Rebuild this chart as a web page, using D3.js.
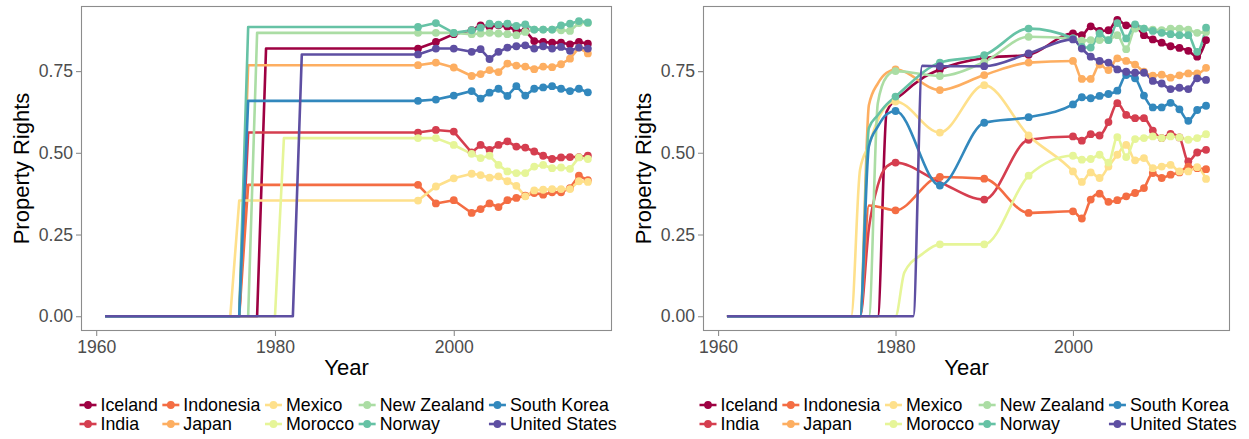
<!DOCTYPE html>
<html>
<head>
<meta charset="utf-8">
<script src="https://cdn.jsdelivr.net/npm/d3@7"></script>
<style>
  html, body { margin: 0; padding: 0; background: #fff; }
  svg { display: block; font-family: "Liberation Sans", Arial, Helvetica, sans-serif; }
</style>
</head>
<body>
<svg id="chart" width="1249" height="439"></svg>
<script>
// ---------------- DATA ----------------
const countries = ["Iceland","India","Indonesia","Japan","Mexico","Morocco","New Zealand","Norway","South Korea","United States"];
const colors = ["#9E0142","#D53E4F","#F46D43","#FDAE61","#FEE08B","#E6F598","#ABDDA4","#66C2A5","#3288BD","#5E4FA2"];
const yTicks = [0, 0.25, 0.5, 0.75];
const xTicks = [1960, 1980, 2000];

// Left panel: last zero year (step), observed years & values
const leftStepYear = [1978, 1976, 1976, 1976, 1975, 1980, 1977, 1976, 1976, 1982];
const leftYears = [1996,1998,2000,2002,2003,2004,2005,2006,2007,2008,2009,2010,2011,2012,2013,2014,2015];
const leftIceland   = [0.819,0.839,0.863,0.875,0.890,0.886,0.890,0.886,0.875,0.874,0.842,0.839,0.837,0.837,0.832,0.839,0.834];
const leftIndia     = [0.562,0.570,0.565,0.501,0.524,0.509,0.524,0.535,0.519,0.516,0.504,0.491,0.481,0.486,0.487,0.487,0.491];
const leftIndonesia = [0.402,0.345,0.355,0.316,0.328,0.345,0.334,0.355,0.362,0.369,0.377,0.372,0.379,0.379,0.392,0.430,0.416];
const leftJapan     = [0.768,0.776,0.761,0.735,0.741,0.753,0.747,0.773,0.767,0.764,0.756,0.764,0.762,0.771,0.788,0.822,0.804];
const leftMexico    = [0.354,0.397,0.422,0.436,0.432,0.424,0.428,0.413,0.399,0.367,0.385,0.387,0.389,0.389,0.389,0.413,0.411];
const leftMorocco   = [0.545,0.545,0.524,0.497,0.484,0.491,0.463,0.443,0.438,0.438,0.458,0.463,0.453,0.455,0.451,0.486,0.481];
const leftNewZealand= [0.867,0.867,0.867,0.863,0.865,0.867,0.865,0.863,0.860,0.870,0.877,0.877,0.877,0.875,0.873,0.897,0.897];
const leftNorway    = [0.885,0.897,0.867,0.875,0.883,0.895,0.892,0.895,0.888,0.893,0.877,0.877,0.877,0.890,0.895,0.903,0.899];
const leftSouthKorea= [0.659,0.663,0.675,0.689,0.666,0.684,0.696,0.674,0.704,0.675,0.696,0.700,0.704,0.696,0.689,0.696,0.685];
const leftUS        = [0.801,0.819,0.819,0.809,0.817,0.787,0.809,0.822,0.826,0.829,0.819,0.826,0.819,0.824,0.812,0.822,0.819];

// Right panel: observed years & values (null = not observed)
const rightYears = [1980,1985,1990,1995,2000,2001,2002,2003,2004,2005,2006,2007,2008,2009,2010,2011,2012,2013,2014,2015];
const rightIceland   = [null,0.755,0.790,0.800,0.865,0.860,0.887,0.873,0.875,0.907,0.890,0.887,0.860,0.847,0.837,0.826,0.821,0.812,0.794,0.845];
const rightIndia     = [0.470,null,0.357,0.540,0.550,0.537,0.557,0.553,0.594,0.652,0.616,0.606,0.606,0.568,0.545,0.558,0.547,0.474,0.501,0.509];
const rightIndonesia = [0.324,0.426,0.421,0.316,0.321,0.299,0.357,0.375,0.350,0.355,0.367,0.377,0.392,0.438,0.423,0.433,0.440,0.458,0.453,0.450];
const rightJapan     = [0.755,0.692,0.738,0.776,0.781,0.726,0.726,0.770,0.753,0.789,0.781,0.770,0.748,0.736,0.739,0.730,0.737,0.743,0.743,0.760];
const rightMexico    = [0.657,0.562,0.707,0.553,0.443,0.411,0.440,0.423,0.458,0.494,0.524,0.477,0.484,0.453,0.458,0.463,0.443,0.443,0.456,0.420];
const rightMorocco   = [null,0.220,0.220,0.430,0.491,0.479,0.481,0.494,0.470,0.548,0.487,0.542,0.545,0.550,0.545,0.550,0.547,0.540,0.545,0.557];
const rightNewZealand= [0.750,0.735,0.778,0.855,0.850,0.843,0.845,0.845,0.845,0.860,0.817,0.880,0.880,0.877,0.875,0.880,0.880,0.877,0.867,0.870];
const rightNorway    = [0.672,0.776,0.799,0.880,0.850,0.824,0.822,0.865,0.845,0.897,0.850,0.893,0.880,0.873,0.867,0.863,0.860,0.860,0.809,0.883];
const rightSouthKorea= [0.628,0.400,0.592,0.609,0.648,0.670,0.667,0.674,0.680,0.690,0.738,0.728,0.675,0.639,0.639,0.653,0.633,0.598,0.631,0.644];
const rightUS        = [null,0.765,0.765,0.804,0.847,0.819,0.794,0.781,0.776,0.755,0.748,0.745,0.745,0.720,0.712,0.695,0.699,0.695,0.728,0.723];

const knotsIceland   = [[1961,0],[1978,0],[1979,0.626],[1981,0.685],[1983,0.728]];
const knotsIndia     = [[1961,0],[1976,0],[1977,0.27],[1978,0.40],[1979,0.458],[1985,0.41]];
const knotsIndonesia = [[1961,0],[1976,0],[1977,0.339],[1978,0.335]];
const knotsJapan     = [[1961,0],[1976,0],[1977,0.646],[1978,0.712],[1979,0.745]];
const knotsMexico    = [[1961,0],[1975,0],[1976,0.448],[1977,0.524],[1978,0.60],[1979,0.645]];
const knotsMorocco   = [[1961,0],[1980,0],[1981,0.134],[1983,0.19]];
const knotsNewZealand= [[1961,0],[1977,0],[1978,0.651],[1979,0.733]];
const knotsNorway    = [[1961,0],[1976,0],[1977,0.576],[1978,0.615],[1979,0.648]];
const knotsSouthKorea= [[1961,0],[1976,0],[1977,0.52],[1978,0.58],[1979,0.618]];
const knotsUS        = [[1961,0],[1982,0],[1983,0.766]];

const leftValues  = [leftIceland,leftIndia,leftIndonesia,leftJapan,leftMexico,leftMorocco,leftNewZealand,leftNorway,leftSouthKorea,leftUS];
const rightValues = [rightIceland,rightIndia,rightIndonesia,rightJapan,rightMexico,rightMorocco,rightNewZealand,rightNorway,rightSouthKorea,rightUS];
const rightKnots  = [knotsIceland,knotsIndia,knotsIndonesia,knotsJapan,knotsMexico,knotsMorocco,knotsNewZealand,knotsNorway,knotsSouthKorea,knotsUS];

// ---------------- BUILD SERIES ----------------
const leftSeries = countries.map((c, i) => {
  const s = leftStepYear[i];
  const obs = leftYears.map((y, j) => [y, leftValues[i][j]]);
  const line = [[1961, 0], [s, 0], [s + 1, obs[0][1]]].concat(obs);
  return { name: c, color: colors[i], line, points: obs };
});
const rightSeries = countries.map((c, i) => {
  const obs = rightYears.map((y, j) => [y, rightValues[i][j]]).filter(d => d[1] !== null);
  const line = rightKnots[i].concat(obs).sort((a, b) => a[0] - b[0]);
  return { name: c, color: colors[i], line, points: obs };
});

// ---------------- DRAW ----------------
const svg = d3.select("#chart");
const grey = "#4D4D4D";
const borderCol = "#8C8C8C";

function drawPanel(series, opts) {
  const { x0, x1, clipX0, clipX1, curve, id } = opts;
  const top = 6, bottom = 331;
  const defs = svg.append("defs");
  defs.append("clipPath").attr("id", "plotclip" + id)
    .append("rect").attr("x", clipX0).attr("y", 0).attr("width", clipX1 - clipX0).attr("height", 439);
  defs.append("clipPath").attr("id", "panelclip" + id)
    .append("rect").attr("x", x0).attr("y", top).attr("width", x1 - x0).attr("height", bottom - top);

  const root = svg.append("g").attr("clip-path", `url(#plotclip${id})`);
  const x = d3.scaleLinear().domain([1958.3, 2017.7]).range([x0, x1]);
  const y = d3.scaleLinear().domain([-0.0452, 0.9492]).range([bottom, top]);

  const lineGen = d3.line().x(d => x(d[0])).y(d => y(d[1])).curve(curve);
  const data = root.append("g").attr("clip-path", `url(#panelclip${id})`);
  data.selectAll("path.series").data(series).join("path")
    .attr("class", "series")
    .attr("d", d => lineGen(d.line))
    .attr("fill", "none").attr("stroke", d => d.color)
    .attr("stroke-width", 2.6).attr("stroke-linejoin", "round").attr("stroke-linecap", "butt");
  series.forEach(s => {
    data.append("g").selectAll("circle").data(s.points).join("circle")
      .attr("cx", d => x(d[0])).attr("cy", d => y(d[1])).attr("r", 3.9).attr("fill", s.color);
  });

  // panel border
  root.append("rect").attr("x", x0 + 0.5).attr("y", top + 0.5)
    .attr("width", x1 - x0 - 1).attr("height", bottom - top - 1)
    .attr("fill", "none").attr("stroke", borderCol).attr("stroke-width", 1.1);

  // axes
  const yAxis = d3.axisLeft(y).tickValues(yTicks).tickFormat(d3.format(".2f")).tickSize(5).tickPadding(3);
  const gy = root.append("g").attr("transform", `translate(${x0},0)`).call(yAxis);
  const xAxis = d3.axisBottom(x).tickValues(xTicks).tickFormat(d3.format("d")).tickSize(5).tickPadding(3);
  const gx = root.append("g").attr("transform", `translate(0,${bottom})`).call(xAxis);
  [gx, gy].forEach(g => {
    g.select(".domain").remove();
    g.selectAll(".tick line").attr("stroke", borderCol).attr("stroke-width", 1.1);
    g.selectAll(".tick text").attr("fill", grey).style("font-size", "17.6px")
      .style("font-family", '"Liberation Sans", Arial, sans-serif');
  });
  gx.selectAll(".tick text").attr("dy", "0.8em");

  // titles
  root.append("text").attr("x", (x0 + x1) / 2).attr("y", 375).attr("text-anchor", "middle")
    .style("font-size", "22px").attr("fill", "#000").text("Year");
  root.append("text").attr("transform", `translate(${opts.ytitleX},${(top + bottom) / 2}) rotate(-90)`)
    .attr("text-anchor", "middle").style("font-size", "22px").attr("fill", "#000").text("Property Rights");

  // legend: 2 rows, filled by column
  const lg = root.append("g");
  const rowsY = [405, 424];
  let cx = opts.legendX;
  const nCols = Math.ceil(series.length / 2);
  for (let c = 0; c < nCols; c++) {
    let maxW = 0;
    for (let r = 0; r < 2; r++) {
      const idx = c * 2 + r;
      if (idx >= series.length) continue;
      const s = series[idx];
      const ky = rowsY[r];
      lg.append("line").attr("x1", cx).attr("x2", cx + 17).attr("y1", ky).attr("y2", ky)
        .attr("stroke", s.color).attr("stroke-width", 2.6);
      lg.append("circle").attr("cx", cx + 8.5).attr("cy", ky).attr("r", 3.9).attr("fill", s.color);
      const t = lg.append("text").attr("x", cx + 21).attr("y", ky).attr("dominant-baseline", "central")
        .style("font-size", "17.8px").attr("fill", "#000").text(s.name);
      maxW = Math.max(maxW, t.node().getComputedTextLength());
    }
    cx = cx + 21 + maxW + 4.5;
  }
}

drawPanel(leftSeries, { id: "L", x0: 81, x1: 612, clipX0: 0, clipX1: 620, curve: d3.curveLinear, ytitleX: 29, legendX: 79.5 });
drawPanel(rightSeries, { id: "R", x0: 703, x1: 1230, clipX0: 624.5, clipX1: 1240, curve: d3.curveMonotoneX, ytitleX: 651, legendX: 699.5 });
</script>
</body>
</html>
